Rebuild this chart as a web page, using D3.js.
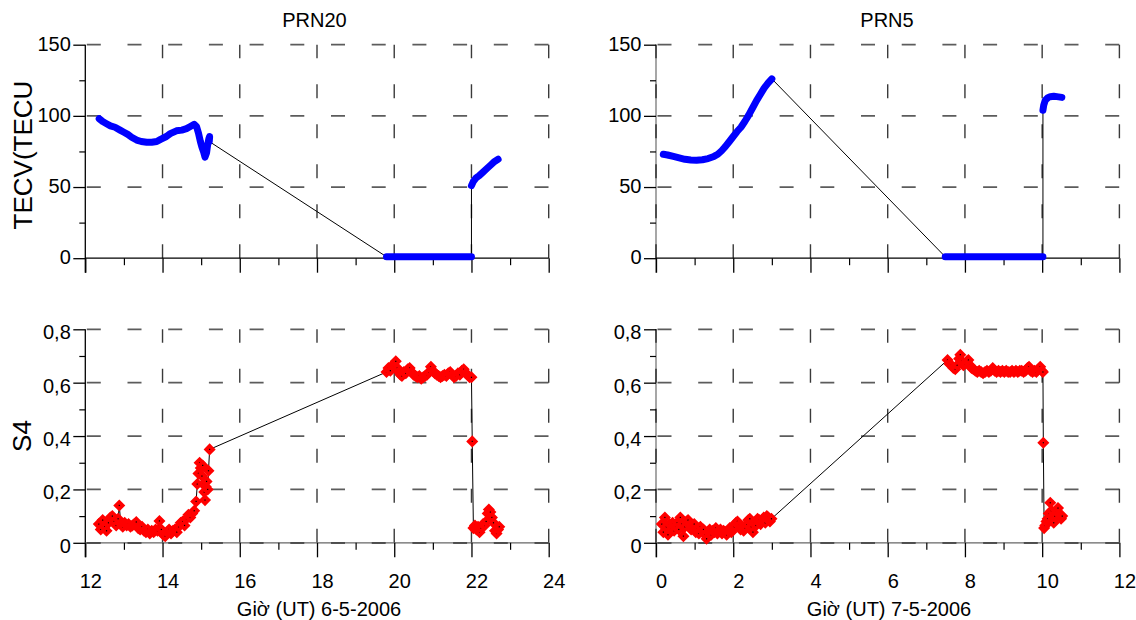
<!DOCTYPE html>
<html>
<head>
<meta charset="utf-8">
<script src="https://cdn.jsdelivr.net/npm/d3@7"></script>
<style>
  html, body { margin: 0; padding: 0; background: #fff; }
  svg { display: block; font-family: "Liberation Sans", Arial, sans-serif; }
</style>
</head>
<body>
<svg id="chart" width="1136" height="620"></svg>
<script>
// ---------------- DATA ----------------
const panelTitles = ["PRN20", "PRN5"];
const xAxisTitles = ["Giờ (UT) 6-5-2006", "Giờ (UT) 7-5-2006"];
const yAxisTitles = ["TECV(TECU", "S4"];

const xTicksLeft = [12, 14, 16, 18, 20, 22, 24];
const xMinorLeft = [13, 15, 17, 19, 21, 23];
const xTicksRight = [0, 2, 4, 6, 8, 10, 12];
const xMinorRight = [1, 3, 5, 7, 9, 11];

const tecTicks = [0, 50, 100, 150];
const tecMinor = [25, 75, 125];
const s4Ticks = [0, 0.2, 0.4, 0.6, 0.8];
const s4TickLabels = ["0", "0,2", "0,4", "0,6", "0,8"];
const s4Minor = [0.1, 0.3, 0.5, 0.7];

// PRN20 TECV segments [hour, TECU]
const prn20TecA = [[12.36,98],[12.45,96],[12.55,94.5],[12.65,93],[12.77,92],[12.9,90],[13.0,88.5],[13.1,87],[13.2,85],[13.33,83],[13.45,82],[13.59,81.5],[13.72,81.5],[13.85,82],[13.95,83.5],[14.1,85.5],[14.2,87.5],[14.36,89.5],[14.5,90],[14.62,91],[14.72,92.5],[14.82,94],[14.88,92.5],[14.93,88],[14.98,82],[15.02,78],[15.06,75],[15.1,71],[15.14,74],[15.17,80],[15.2,84],[15.22,85.5],[15.21,82]];
const prn20TecB = [[19.8,1],[20.3,1],[20.8,1],[21.3,1],[21.8,1],[22.0,1]];
const prn20TecC = [[22.0,51],[22.05,54],[22.12,56.5],[22.2,58],[22.3,60.5],[22.4,63],[22.5,65.5],[22.6,68],[22.69,69.5]];

// PRN5 TECV segments
const prn5TecA = [[0.19,73],[0.3,72.5],[0.45,71.5],[0.6,70.5],[0.75,69.5],[0.9,69],[1.05,68.8],[1.2,69.2],[1.35,70],[1.5,71.5],[1.6,73],[1.7,75.5],[1.8,78.5],[1.9,82],[2.0,85.5],[2.1,89],[2.2,92],[2.3,96],[2.4,100.5],[2.5,105.5],[2.6,110.5],[2.7,115],[2.8,119.5],[2.9,123],[3.0,126]];
const prn5TecB = [[7.49,1],[8.0,1],[8.5,1],[9.0,1],[9.5,1],[10.02,1]];
const prn5TecC = [[10.02,104],[10.04,107.5],[10.08,111],[10.15,112.8],[10.21,113.5],[10.3,113.8],[10.38,113.5],[10.51,113]];

// PRN20 S4 [hour, S4]
const prn20S4 = [[12.35,0.07],[12.4,0.05],[12.45,0.085],[12.5,0.06],[12.55,0.045],[12.6,0.075],[12.65,0.095],[12.7,0.1],[12.75,0.08],[12.8,0.065],[12.85,0.09],[12.88,0.14],[12.92,0.07],[12.97,0.06],[13.02,0.075],[13.07,0.065],[13.12,0.07],[13.17,0.06],[13.22,0.065],[13.27,0.07],[13.32,0.078],[13.37,0.055],[13.42,0.05],[13.47,0.06],[13.52,0.045],[13.57,0.04],[13.62,0.05],[13.67,0.035],[13.72,0.045],[13.77,0.04],[13.82,0.05],[13.87,0.045],[13.92,0.082],[13.97,0.05],[14.02,0.03],[14.07,0.025],[14.12,0.04],[14.17,0.05],[14.22,0.035],[14.27,0.045],[14.32,0.05],[14.37,0.04],[14.42,0.06],[14.47,0.075],[14.52,0.08],[14.57,0.065],[14.62,0.09],[14.67,0.105],[14.72,0.095],[14.77,0.11],[14.82,0.12],[14.87,0.155],[14.9,0.22],[14.93,0.26],[14.96,0.3],[14.99,0.28],[15.02,0.25],[15.04,0.29],[15.06,0.22],[15.08,0.19],[15.1,0.16],[15.12,0.21],[15.14,0.23],[15.17,0.2],[15.19,0.27],[15.22,0.35],
  [19.8,0.64],[19.85,0.655],[19.9,0.645],[19.95,0.665],[20.0,0.66],[20.04,0.68],[20.08,0.655],[20.12,0.64],[20.16,0.63],[20.2,0.625],[20.25,0.64],[20.3,0.635],[20.35,0.65],[20.4,0.655],[20.45,0.64],[20.5,0.63],[20.55,0.625],[20.6,0.62],[20.65,0.625],[20.7,0.615],[20.75,0.62],[20.8,0.625],[20.85,0.63],[20.9,0.64],[20.95,0.66],[21.0,0.645],[21.05,0.635],[21.1,0.63],[21.15,0.625],[21.2,0.62],[21.25,0.625],[21.3,0.63],[21.35,0.625],[21.4,0.635],[21.45,0.64],[21.5,0.63],[21.55,0.62],[21.6,0.625],[21.65,0.635],[21.7,0.63],[21.75,0.645],[21.8,0.65],[21.85,0.635],[21.9,0.63],[21.95,0.62],[22.0,0.62],
  [22.02,0.38],
  [22.05,0.055],[22.09,0.065],[22.13,0.05],[22.17,0.06],[22.21,0.04],[22.25,0.055],[22.3,0.07],[22.34,0.065],[22.38,0.08],[22.42,0.11],[22.45,0.125],[22.49,0.115],[22.53,0.095],[22.57,0.075],[22.61,0.045],[22.65,0.035],[22.69,0.05],[22.72,0.06]];

// PRN5 S4
const prn5S4 = [[0.15,0.07],[0.19,0.04],[0.23,0.095],[0.27,0.06],[0.31,0.03],[0.35,0.07],[0.39,0.05],[0.43,0.075],[0.47,0.045],[0.51,0.06],[0.55,0.075],[0.59,0.05],[0.63,0.095],[0.67,0.07],[0.71,0.025],[0.75,0.06],[0.79,0.08],[0.83,0.085],[0.87,0.065],[0.91,0.05],[0.95,0.06],[0.99,0.07],[1.03,0.04],[1.07,0.055],[1.11,0.035],[1.15,0.06],[1.19,0.045],[1.23,0.05],[1.27,0.03],[1.31,0.015],[1.35,0.04],[1.39,0.05],[1.43,0.03],[1.47,0.045],[1.51,0.04],[1.55,0.055],[1.59,0.035],[1.63,0.045],[1.67,0.05],[1.71,0.035],[1.75,0.045],[1.79,0.04],[1.83,0.03],[1.87,0.045],[1.91,0.055],[1.95,0.04],[1.99,0.05],[2.03,0.06],[2.07,0.075],[2.11,0.08],[2.15,0.065],[2.19,0.05],[2.23,0.06],[2.27,0.045],[2.31,0.055],[2.35,0.07],[2.39,0.085],[2.43,0.09],[2.47,0.06],[2.51,0.04],[2.55,0.075],[2.59,0.065],[2.63,0.09],[2.67,0.085],[2.71,0.07],[2.75,0.08],[2.79,0.095],[2.83,0.075],[2.87,0.1],[2.91,0.095],[2.95,0.08],[2.99,0.09],
  [7.55,0.685],[7.6,0.67],[7.65,0.665],[7.7,0.655],[7.75,0.65],[7.8,0.665],[7.85,0.69],[7.88,0.705],[7.92,0.68],[7.96,0.665],[8.0,0.67],[8.05,0.68],[8.09,0.685],[8.13,0.665],[8.17,0.655],[8.22,0.65],[8.27,0.645],[8.32,0.64],[8.37,0.645],[8.42,0.64],[8.47,0.635],[8.52,0.64],[8.57,0.645],[8.62,0.64],[8.67,0.645],[8.72,0.655],[8.77,0.645],[8.82,0.64],[8.87,0.645],[8.92,0.64],[8.97,0.645],[9.02,0.64],[9.07,0.645],[9.12,0.64],[9.17,0.64],[9.22,0.645],[9.27,0.64],[9.32,0.645],[9.37,0.64],[9.42,0.645],[9.47,0.645],[9.52,0.64],[9.57,0.645],[9.62,0.655],[9.66,0.66],[9.7,0.645],[9.75,0.64],[9.8,0.645],[9.85,0.64],[9.9,0.65],[9.95,0.66],[9.99,0.645],[10.02,0.64],
  [10.03,0.375],
  [10.05,0.055],[10.08,0.065],[10.11,0.08],[10.14,0.09],[10.17,0.11],[10.21,0.15],[10.24,0.12],[10.27,0.085],[10.3,0.075],[10.33,0.1],[10.37,0.12],[10.41,0.13],[10.45,0.105],[10.49,0.09],[10.52,0.1]];

// ---------------- DRAW ----------------
const svg = d3.select("#chart");
const FONT = 20;

const colLeft = 85.3, colRight = 656, plotW = 463.4;
const rowTop = 44.7, rowBottom = 329.3, plotH = 213.5;

function drawPanel(cfg) {
  const g = svg.append("g");
  const x = d3.scaleLinear().domain(cfg.xDomain).range([cfg.left, cfg.left + plotW]);
  const y = d3.scaleLinear().domain(cfg.yDomain).range([cfg.top + plotH, cfg.top]);
  const x0 = x(cfg.xDomain[0]), x1 = x(cfg.xDomain[1]);
  const y0 = y(cfg.yDomain[0]), y1 = y(cfg.yDomain[1]);

  // horizontal dashed grid
  const hLines = cfg.yTicks.filter(v => v > cfg.yDomain[0] || cfg.gridAtY0);
  g.append("g").selectAll("line").data(hLines).join("line")
    .attr("x1", x0 + 1.5).attr("x2", x1)
    .attr("y1", d => y(d)).attr("y2", d => y(d))
    .attr("stroke", d => d === cfg.yDomain[0] ? "#000" : "#5c5c5c")
    .attr("stroke-width", 1.8)
    .attr("stroke-dasharray", "14,26.7");

  // vertical dashed grid (drawn from bottom up)
  const vLines = cfg.xTicks.filter(v => v > cfg.xDomain[0] || cfg.gridAtX0);
  g.append("g").selectAll("line").data(vLines).join("line")
    .attr("x1", d => x(d)).attr("x2", d => x(d))
    .attr("y1", y0).attr("y2", y1)
    .attr("stroke", d => d === cfg.xDomain[0] ? "#000" : "#3a3a3a")
    .attr("stroke-width", d => d === cfg.xDomain[0] ? 2 : 1.4)
    .attr("stroke-dasharray", "14,26");

  // axis lines
  g.append("line").attr("x1", x0).attr("x2", x0).attr("y1", y1).attr("y2", y0 + 14.5)
    .attr("stroke", cfg.gridAtX0 ? "#777" : "#000").attr("stroke-width", 1.3);
  g.append("line").attr("x1", x0).attr("x2", x1).attr("y1", y0).attr("y2", y0)
    .attr("stroke", cfg.gridAtY0 ? "#666" : "#000").attr("stroke-width", 1.3);

  // x axis ticks (major + minor) through d3 axes
  const xAx = g.append("g").attr("transform", `translate(0,${y0})`)
    .call(d3.axisBottom(x).tickValues(cfg.xTicks).tickSize(14.5).tickSizeOuter(0)
      .tickFormat(cfg.showXLabels ? d3.format("d") : () => ""));
  xAx.select(".domain").remove();
  xAx.selectAll(".tick line").attr("stroke", "#000").attr("stroke-width", 1.3);
  xAx.selectAll(".tick text")
    .attr("font-family", "Liberation Sans, Arial, sans-serif")
    .attr("font-size", FONT).attr("fill", "#000")
    .attr("dy", null).attr("y", 588.5 - y0).attr("x", 5);

  const xMin = g.append("g").attr("transform", `translate(0,${y0})`)
    .call(d3.axisBottom(x).tickValues(cfg.xMinor).tickSize(7).tickSizeOuter(0).tickFormat(() => ""));
  xMin.select(".domain").remove();
  xMin.selectAll(".tick line").attr("stroke", "#000").attr("stroke-width", 1.2);

  // y axis ticks
  const yAx = g.append("g").attr("transform", `translate(${x0},0)`)
    .call(d3.axisLeft(y).tickValues(cfg.yTicks).tickSize(12).tickSizeOuter(0)
      .tickFormat((d, i) => cfg.yLabels[i]));
  yAx.select(".domain").remove();
  yAx.selectAll(".tick line").attr("stroke", "#000").attr("stroke-width", 1.3);
  yAx.selectAll(".tick text")
    .attr("font-family", "Liberation Sans, Arial, sans-serif")
    .attr("font-size", FONT).attr("fill", "#000")
    .attr("x", -14.5).attr("dy", null).attr("y", cfg.labelDy);

  const yMin = g.append("g").attr("transform", `translate(${x0},0)`)
    .call(d3.axisLeft(y).tickValues(cfg.yMinor).tickSize(6).tickSizeOuter(0).tickFormat(() => ""));
  yMin.select(".domain").remove();
  yMin.selectAll(".tick line").attr("stroke", "#000").attr("stroke-width", 1.2);

  const line = d3.line().x(d => x(d[0])).y(d => y(d[1]));

  if (cfg.kind === "tec") {
    const all = cfg.segments.flat();
    g.append("path").attr("d", line(all)).attr("fill", "none")
      .attr("stroke", "#000").attr("stroke-width", 1);
    g.append("g").selectAll("path").data(cfg.segments).join("path")
      .attr("d", d => line(d)).attr("fill", "none")
      .attr("stroke", "#0000ff").attr("stroke-width", 7)
      .attr("stroke-linecap", "round").attr("stroke-linejoin", "round");
  } else {
    g.append("path").attr("d", line(cfg.points)).attr("fill", "none")
      .attr("stroke", "#000").attr("stroke-width", 1);
    const sym = d3.symbol().type(d3.symbolSquare).size(40);
    const mk = g.append("g").selectAll("g").data(cfg.points).join("g")
      .attr("transform", d => `translate(${x(d[0])},${y(d[1])})`);
    mk.append("path").attr("d", sym()).attr("transform", "rotate(45)")
      .attr("fill", "#ff0000").attr("stroke", "#ff0000").attr("stroke-width", 2.2);
    mk.append("rect").attr("x", -0.6).attr("y", -0.6).attr("width", 1.2).attr("height", 1.2)
      .attr("fill", "#000");
  }
}

// top-left: PRN20 TEC
drawPanel({ left: colLeft, top: rowTop, xDomain: [12, 24], yDomain: [0, 150],
  xTicks: xTicksLeft, xMinor: xMinorLeft, yTicks: tecTicks, yMinor: tecMinor,
  yLabels: tecTicks.map(String), labelDy: 5.5, showXLabels: false,
  gridAtX0: false, gridAtY0: false, kind: "tec",
  segments: [prn20TecA, prn20TecB, prn20TecC] });
// top-right: PRN5 TEC
drawPanel({ left: colRight, top: rowTop, xDomain: [0, 12], yDomain: [0, 150],
  xTicks: xTicksRight, xMinor: xMinorRight, yTicks: tecTicks, yMinor: tecMinor,
  yLabels: tecTicks.map(String), labelDy: 5.5, showXLabels: false,
  gridAtX0: true, gridAtY0: false, kind: "tec",
  segments: [prn5TecA, prn5TecB, prn5TecC] });
// bottom-left: PRN20 S4
drawPanel({ left: colLeft, top: rowBottom, xDomain: [12, 24], yDomain: [0, 0.8],
  xTicks: xTicksLeft, xMinor: xMinorLeft, yTicks: s4Ticks, yMinor: s4Minor,
  yLabels: s4TickLabels, labelDy: 9.5, showXLabels: true,
  gridAtX0: false, gridAtY0: true, kind: "s4", points: prn20S4 });
// bottom-right: PRN5 S4
drawPanel({ left: colRight, top: rowBottom, xDomain: [0, 12], yDomain: [0, 0.8],
  xTicks: xTicksRight, xMinor: xMinorRight, yTicks: s4Ticks, yMinor: s4Minor,
  yLabels: s4TickLabels, labelDy: 9.5, showXLabels: true,
  gridAtX0: true, gridAtY0: true, kind: "s4", points: prn5S4 });

// titles
const tf = "Liberation Sans, Arial, sans-serif";
svg.append("text").attr("x", 314.5).attr("y", 27).attr("text-anchor", "middle")
  .attr("font-family", tf).attr("font-size", 20).text(panelTitles[0]);
svg.append("text").attr("x", 887).attr("y", 27).attr("text-anchor", "middle")
  .attr("font-family", tf).attr("font-size", 20).text(panelTitles[1]);

svg.append("text").attr("x", 319).attr("y", 616).attr("text-anchor", "middle")
  .attr("font-family", tf).attr("font-size", 20).text(xAxisTitles[0]);
svg.append("text").attr("x", 889).attr("y", 616).attr("text-anchor", "middle")
  .attr("font-family", tf).attr("font-size", 20).text(xAxisTitles[1]);

svg.append("text").attr("transform", "translate(32,155) rotate(-90)").attr("text-anchor", "middle")
  .attr("font-family", tf).attr("font-size", 26).text(yAxisTitles[0]);
svg.append("text").attr("transform", "translate(31,436) rotate(-90)").attr("text-anchor", "middle")
  .attr("font-family", tf).attr("font-size", 26).text(yAxisTitles[1]);
</script>
</body>
</html>
